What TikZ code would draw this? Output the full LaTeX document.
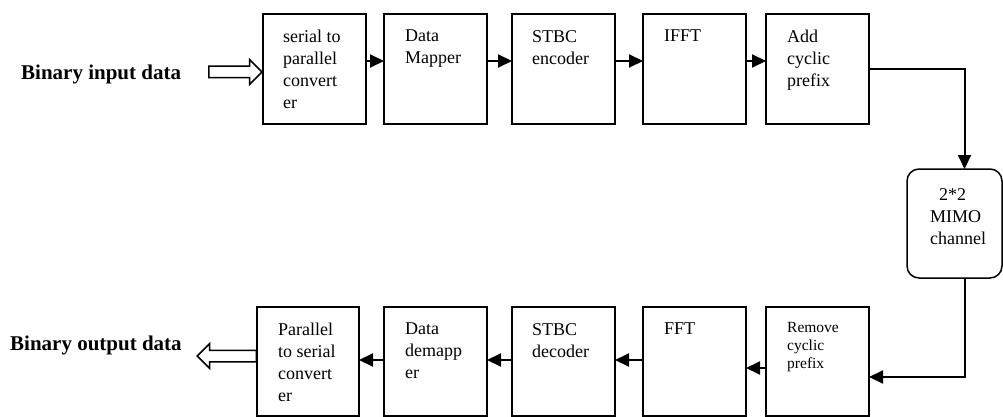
\documentclass[tikz,border=0pt]{standalone}
\usepackage{fontspec}
\setmainfont{Liberation Serif}
\usetikzlibrary{arrows.meta,shapes.arrows}

\tikzset{
  blok/.style={draw, line width=1.5pt, anchor=north west, minimum width=103pt,
    minimum height=110pt, outer sep=0pt, inner sep=0pt},
  txt/.style={anchor=north west, inner sep=0pt, align=left,
    font=\fontsize{18}{22}\selectfont},
  flow/.style={line width=2pt, -{Triangle[length=14pt,width=13pt]}},
  hollow/.style={single arrow, draw, line width=1.5pt, inner sep=5pt,
    single arrow head extend=6.5pt, single arrow head indent=0pt, minimum width=23pt},
  zag/.style={font=\fontsize{21}{25}\selectfont\bfseries, anchor=base west, inner sep=0pt}
}

\begin{document}
\begin{tikzpicture}[x=1pt,y=-1pt]
        \useasboundingbox (0,0) rectangle (1003,417);

        % Передатчик
        \node[blok] (b1) at (263,14) {};
        \node[blok] (b2) at (384,14) {};
        \node[blok] (b3) at (512,14) {};
        \node[blok] (b4) at (643,14) {};
        \node[blok] (b5) at (766,14) {};
        \node[txt] (t1) at ([shift={(20,16)}]b1.north west) {serial to\\parallel\\convert\\er};
        \node[txt] (t2) at ([shift={(21,16)}]b2.north west) {Data\\Mapper};
        \node[txt] (t3) at ([shift={(20,16)}]b3.north west) {STBC\\encoder};
        \node[txt] (t4) at ([shift={(21,16)}]b4.north west) {IFFT};
        \node[txt] (t5) at ([shift={(21,16)}]b5.north west) {Add\\cyclic\\prefix};

        % Канал
        \node[draw, line width=1.5pt, rounded corners=12pt, anchor=north west,
          minimum width=95pt, minimum height=109pt, outer sep=0pt] (mimo) at (907,169) {};
        \node[txt] (tm) at ([shift={(23,19)}]mimo.north west) {\hspace{9pt}2*2\\MIMO\\channel};

        % Приёмник
        \node[blok, minimum height=109pt, minimum width=102pt] (p1) at (257,307) {};
        \node[blok, minimum height=109pt] (p2) at (384,307) {};
        \node[blok, minimum height=109pt] (p3) at (512,307) {};
        \node[blok, minimum height=109pt] (p4) at (643,307) {};
        \node[blok, minimum height=109pt] (p5) at (766,307) {};
        \node[txt] (s1) at ([shift={(21,16)}]p1.north west) {Parallel\\to serial\\convert\\er};
        \node[txt] (s2) at ([shift={(21,16)}]p2.north west) {Data\\demapp\\er};
        \node[txt] (s3) at ([shift={(20,16)}]p3.north west) {STBC\\decoder};
        \node[txt] (s4) at ([shift={(21,16)}]p4.north west) {FFT};
        \node[txt, font=\fontsize{15.5}{18}\selectfont] (s5) at ([shift={(21,15)}]p5.north west) {Remove\\cyclic\\prefix};

        % Вход и выход
        \node[zag] (inlbl) at (21,80) {Binary input data};
        \node[hollow, minimum height=53pt, anchor=tip] (inarr) at ([yshift=-3pt]b1.west) {};
        \node[zag] (outlbl) at (10,350) {Binary output data};
        \node[hollow, minimum height=59pt, shape border rotate=180, anchor=tail] (outarr) at ([yshift=5.5pt]p1.west) {};

        % Стрелки
        \draw[flow] ([yshift=8pt]b1.east) -- ([yshift=8pt]b2.west);
        \draw[flow] ([yshift=8pt]b2.east) -- ([yshift=8pt]b3.west);
        \draw[flow] ([yshift=8pt]b3.east) -- ([yshift=8pt]b4.west);
        \draw[flow] ([yshift=8pt]b4.east) -- ([yshift=8pt]b5.west);
        \draw[flow] (b5.east) -| ([xshift=10pt]mimo.north);
        \draw[flow] ([xshift=10pt]mimo.south) |- ([yshift=-15.5pt]p5.east);
        \draw[flow] ([yshift=-6.5pt]p5.west) -- ([yshift=-6.5pt]p4.east);
        \draw[flow] ([yshift=1.5pt]p4.west) -- ([yshift=1.5pt]p3.east);
        \draw[flow] ([yshift=1.5pt]p3.west) -- ([yshift=1.5pt]p2.east);
        \draw[flow] ([yshift=1.5pt]p2.west) -- ([yshift=1.5pt]p1.east);
\end{tikzpicture}
\end{document}
